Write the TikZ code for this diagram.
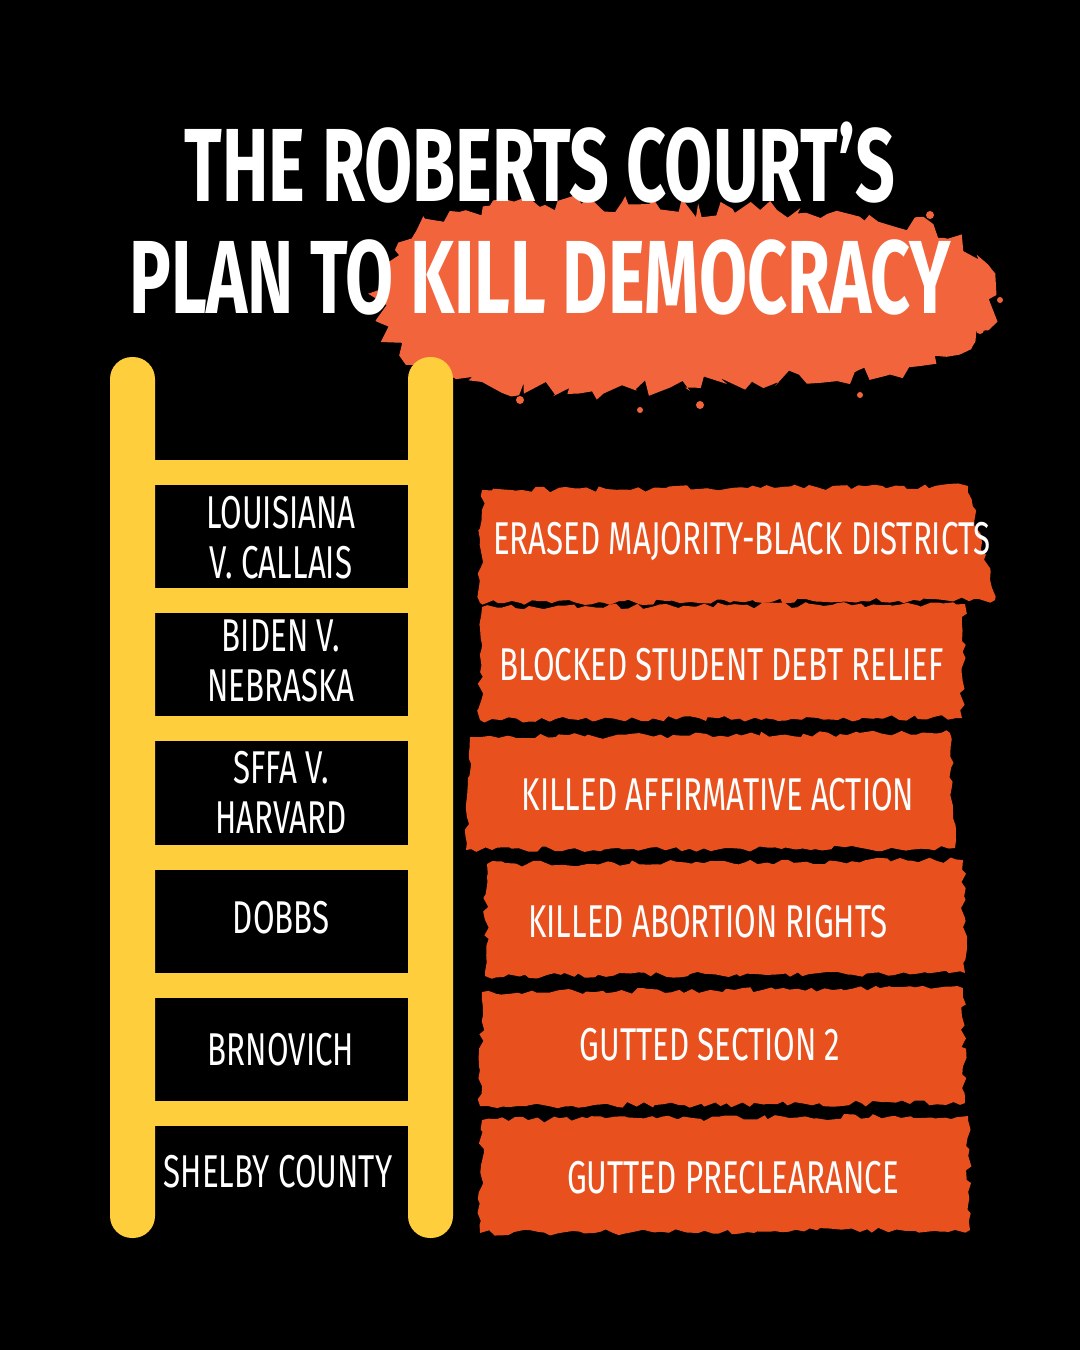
\documentclass[tikz,border=0pt]{standalone}
\usepackage{fontspec}
\newfontfamily\cond{Fira Sans}[FakeStretch=0.68]
\newfontfamily\condt{Fira Sans}[FakeStretch=0.67]
\usetikzlibrary{decorations.pathmorphing}
\definecolor{rail}{HTML}{FFCE3D}
\definecolor{strip}{HTML}{E8501E}
\definecolor{splash}{HTML}{F2643C}
\begin{document}
\begin{tikzpicture}[x=1pt,y=-1pt,
  railst/.style={fill=rail,rounded corners=22pt},
  rung/.style={fill=rail},
  case/.style={text=white,font=\cond\fontsize{46}{50}\selectfont,align=center},
  strp/.style={fill=strip,decorate,decoration={random steps,segment length=7pt,amplitude=3pt}},
  stxt/.style={text=white,font=\cond\fontsize{46}{50}\selectfont},
  title/.style={text=white,font=\condt\bfseries\fontsize{104}{110}\selectfont}]
\pgfmathsetseed{7}
\fill[black] (0,0) rectangle (1080,1350);
% splash
\fill[splash,decorate,decoration={random steps,segment length=9pt,amplitude=9pt}]
  (395,250) .. controls (450,180) and (640,210) .. (760,210)
  .. controls (900,210) and (1000,230) .. (995,295)
  .. controls (990,355) and (900,385) .. (800,375)
  .. controls (650,395) and (480,400) .. (420,365)
  .. controls (370,335) and (370,290) .. cycle;
\foreach \x/\y/\r in {430/378/4,445/370/3,980/330/4,1000/300/3,375/250/3,700/405/4,860/395/3,560/205/3,930/215/4,640/410/3,520/400/4,600/185/3,790/185/3}
  \fill[splash] (\x,\y) circle (\r);
% title
\node[title] (t1) at (540,163) {THE ROBERTS COURT’S};
\node[title] (t2) at (540,277) {PLAN TO KILL DEMOCRACY};
% ladder
\fill[railst] (110,357) rectangle (155,1238);
\fill[railst] (408,357) rectangle (453,1238);
\foreach \y in {460,588,716,845,973,1101}
  \fill[rung] (155,\y) rectangle (408,\y+25);
\node[case] (c1) at (281,538) {LOUISIANA\\V. CALLAIS};
\node[case] (c2) at (281,661) {BIDEN V.\\NEBRASKA};
\node[case] (c3) at (281,792) {SFFA V.\\HARVARD};
\node[case] (c4) at (281,918) {DOBBS};
\node[case] (c5) at (281,1050) {BRNOVICH};
\node[case] (c6) at (278,1172) {SHELBY COUNTY};
% strips
\fill[strp] (482,490) -- (968,486) -- (995,600) -- (480,603) -- cycle;
\fill[strp] (482,607) -- (965,604) -- (962,718) -- (480,720) -- cycle;
\fill[strp] (470,737) -- (950,733) -- (955,848) -- (466,850) -- cycle;
\fill[strp] (487,864) -- (963,860) -- (965,973) -- (485,976) -- cycle;
\fill[strp] (482,992) -- (963,988) -- (965,1103) -- (480,1106) -- cycle;
\fill[strp] (482,1120) -- (968,1116) -- (970,1230) -- (480,1233) -- cycle;
\node[stxt] (s1) at (742,542) {ERASED MAJORITY-BLACK DISTRICTS};
\node[stxt] (s2) at (722,665) {BLOCKED STUDENT DEBT RELIEF};
\node[stxt] (s3) at (718,795) {KILLED AFFIRMATIVE ACTION};
\node[stxt] (s4) at (708,922) {KILLED ABORTION RIGHTS};
\node[stxt] (s5) at (710,1045) {GUTTED SECTION 2};
\node[stxt] (s6) at (733,1178) {GUTTED PRECLEARANCE};
\end{tikzpicture}
\end{document}
